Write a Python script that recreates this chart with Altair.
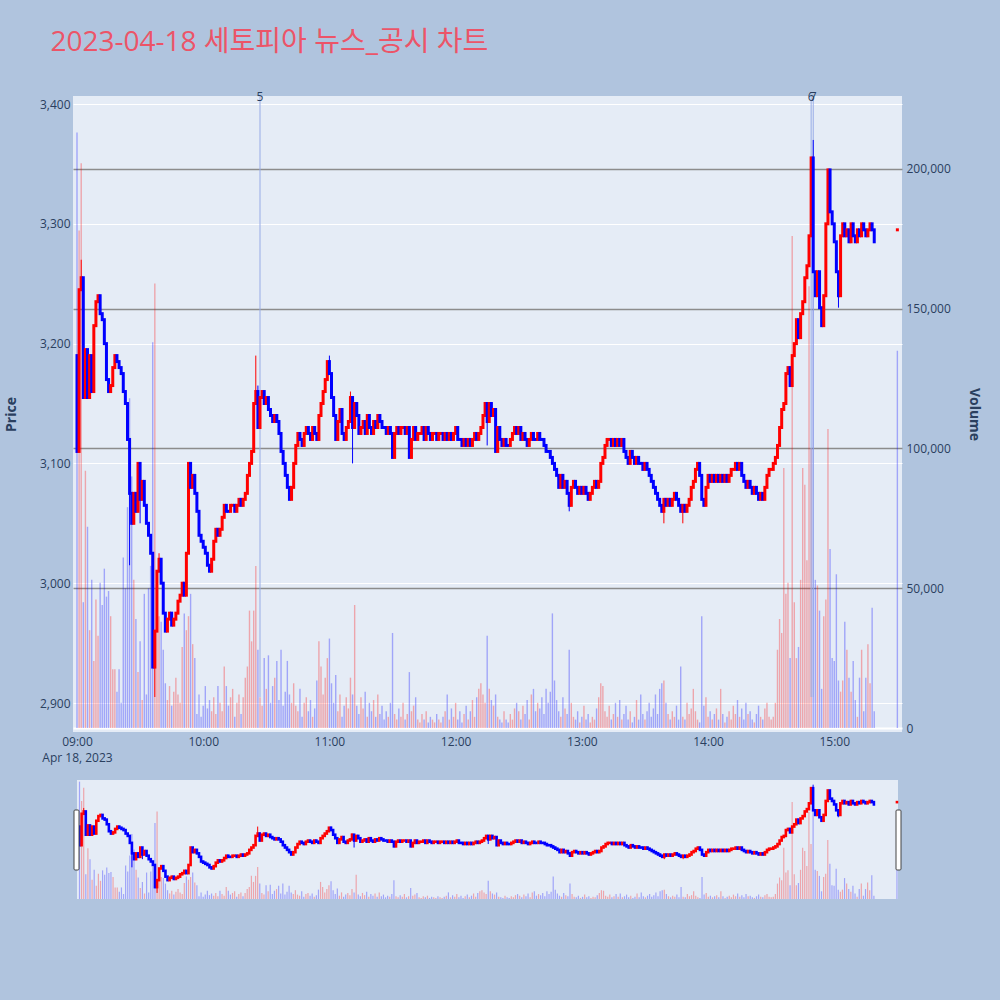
import altair as alt
import pandas as pd

# ---- session data (1-minute candles, 09:00 .. 15:19, plus 15:30 closing auction) ----
TITLE = "2023-04-18 세토피아 뉴스_공시 차트"
SESSION_DATE = "Apr 18, 2023"

FIRST_OPEN = 3190

CLOSES = [
    3110, 3245, 3255, 3155, 3195, 3155, 3190, 3160, 3215, 3235,
    3240, 3225, 3220, 3200, 3170, 3160, 3165, 3180, 3190, 3185,
    3180, 3175, 3160, 3150, 3120, 3075, 3050, 3075, 3060, 3100,
    3070, 3085, 3065, 3050, 3040, 3025, 2930, 2960, 3010, 3020,
    3000, 2975, 2960, 2970, 2975, 2965, 2970, 2975, 2985, 2990,
    3000, 2990, 3025, 3100, 3080, 3090, 3075, 3060, 3040, 3035,
    3030, 3025, 3015, 3010, 3020, 3035, 3045, 3040, 3045, 3055,
    3065, 3060, 3060, 3065, 3065, 3060, 3065, 3070, 3065, 3070,
    3075, 3090, 3100, 3110, 3150, 3160, 3130, 3155, 3160, 3150,
    3155, 3145, 3140, 3135, 3140, 3135, 3125, 3110, 3100, 3090,
    3080, 3070, 3080, 3100, 3115, 3125, 3120, 3115, 3125, 3130,
    3125, 3120, 3130, 3125, 3120, 3140, 3150, 3160, 3170, 3185,
    3175, 3155, 3140, 3120, 3135, 3145, 3125, 3120, 3130, 3135,
    3155, 3130, 3150, 3140, 3125, 3130, 3135, 3125, 3140, 3130,
    3125, 3135, 3130, 3140, 3135, 3130, 3130, 3125, 3130, 3125,
    3105, 3125, 3130, 3125, 3130, 3130, 3125, 3130, 3105, 3120,
    3130, 3120, 3125, 3125, 3130, 3120, 3130, 3125, 3120, 3125,
    3125, 3120, 3125, 3125, 3120, 3125, 3120, 3125, 3120, 3125,
    3130, 3120, 3120, 3115, 3120, 3115, 3120, 3115, 3120, 3125,
    3120, 3125, 3130, 3140, 3150, 3135, 3150, 3140, 3145, 3110,
    3130, 3120, 3115, 3120, 3115, 3115, 3120, 3125, 3130, 3125,
    3130, 3120, 3125, 3120, 3115, 3120, 3125, 3120, 3120, 3125,
    3120, 3120, 3115, 3110, 3110, 3105, 3100, 3095, 3090, 3080,
    3090, 3080, 3085, 3075, 3065, 3080, 3085, 3080, 3075, 3080,
    3075, 3080, 3075, 3070, 3075, 3080, 3085, 3080, 3085, 3100,
    3105, 3115, 3120, 3120, 3115, 3120, 3115, 3120, 3115, 3120,
    3110, 3105, 3100, 3110, 3105, 3100, 3105, 3100, 3100, 3095,
    3100, 3095, 3090, 3085, 3080, 3075, 3070, 3065, 3060, 3070,
    3065, 3070, 3065, 3070, 3075, 3070, 3065, 3060, 3065, 3060,
    3065, 3070, 3080, 3085, 3095, 3100, 3090, 3070, 3065, 3080,
    3090, 3085, 3090, 3085, 3090, 3085, 3090, 3085, 3090, 3085,
    3090, 3095, 3095, 3100, 3095, 3100, 3090, 3085, 3080, 3085,
    3080, 3075, 3080, 3075, 3070, 3075, 3070, 3080, 3090, 3095,
    3095, 3100, 3105, 3115, 3130, 3145, 3150, 3175, 3180, 3165,
    3190, 3200, 3220, 3205, 3225, 3235, 3255, 3265, 3290, 3355,
    3260, 3240, 3260, 3230, 3215, 3240, 3300, 3345, 3310, 3300,
    3285, 3260, 3240, 3290, 3300, 3290, 3295, 3285, 3300, 3290,
    3285, 3295, 3290, 3300, 3295, 3290, 3295, 3300, 3295, 3285,
]

# traded volume per minute, thousands of shares
VOLUMES_K = [
    213, 178, 202, 45, 92, 72, 35, 53, 24, 46,
    33, 52, 44, 57, 47, 49, 40, 21, 21, 13,
    21, 9, 61, 50, 79, 118, 90, 53, 39, 20,
    31, 10, 48, 12, 50, 58, 138, 159, 42, 40,
    38, 28, 16, 10, 15, 8, 13, 18, 12, 9,
    29, 41, 35, 40, 48, 30, 25, 5, 12, 4,
    8, 15, 7, 10, 6, 11, 5, 15, 9, 6,
    22, 15, 8, 11, 14, 4, 9, 12, 5, 11,
    18, 22, 42, 31, 42, 58, 28, 11, 8, 25,
    14, 26, 9, 15, 18, 24, 10, 28, 8, 13,
    24, 12, 9, 16, 8, 6, 14, 4, 9, 11,
    6, 10, 4, 7, 17, 31, 22, 12, 18, 25,
    32, 16, 9, 19, 6, 12, 4, 8, 11, 7,
    18, 12, 44, 8, 5, 11, 7, 13, 4, 9,
    6, 10, 4, 12, 5, 8, 3, 6, 4, 9,
    34, 5, 3, 7, 4, 9, 3, 5, 20, 6,
    8, 11, 3, 2, 5, 3, 6, 2, 4, 3,
    2, 5, 3, 2, 4, 6, 12, 3, 7, 4,
    9, 3, 6, 2, 5, 8, 3, 6, 10, 4,
    11, 14, 16, 12, 9, 33, 14, 10, 8, 12,
    4, 3, 2, 6, 3, 2, 5, 3, 7, 9,
    6, 3, 8, 5, 10, 3, 12, 14, 6, 9,
    7, 11, 5, 14, 9, 13, 41, 17, 10, 6,
    4, 11, 7, 5, 28, 9, 4, 3, 6, 2,
    4, 8, 3, 5, 2, 4, 3, 7, 11, 16,
    15, 6, 4, 8, 3, 5, 9, 4, 10, 3,
    5, 8, 3, 6, 2, 4, 10, 3, 12, 5,
    3, 6, 9, 4, 7, 12, 5, 14, 16, 17,
    9, 5, 3, 6, 4, 8, 3, 22, 4, 3,
    9, 5, 7, 14, 6, 3, 2, 40, 8, 11,
    4, 6, 3, 5, 7, 3, 14, 5, 2, 4,
    6, 3, 8, 5, 10, 4, 7, 3, 9, 5,
    6, 3, 2, 5, 8, 4, 3, 7, 9, 4,
    3, 4, 9, 28, 39, 34, 93, 48, 52, 25,
    176, 45, 25, 29, 53, 93, 87, 60, 158, 100,
    190, 53, 51, 42, 14, 40, 46, 107, 64, 25,
    24, 55, 17, 13, 17, 38, 28, 18, 13, 24,
    10, 4, 18, 28, 6, 18, 30, 16, 43, 6,
]

# wick extremes beyond the candle bodies (minute -> price)
WICK_HIGHS = {2: 3270, 39: 3025, 85: 3190, 86: 3165, 120: 3190, 130: 3160, 350: 3370}
WICK_LOWS = {1: 3135, 25: 3015, 30: 3050, 37: 2905, 131: 3100, 195: 3115,
             234: 3060, 279: 3050, 288: 3050, 362: 3230}

# 15:30 closing auction
AUCTION_MINUTE = 390
AUCTION_OPEN = 3295
AUCTION_CLOSE = 3295
AUCTION_VOLUME_K = 135

# news / disclosure markers
NEWS_LABELS = ["5", "6", "7"]
NEWS_MINUTES = [87, 349, 350]

PRICE_TICKS = [2900, 3000, 3100, 3200, 3300, 3400]
VOLUME_TICKS = [0, 50000, 100000, 150000, 200000]
TIME_TICKS = [0, 60, 120, 180, 240, 300, 360]

assert len(CLOSES) == len(VOLUMES_K)

# ---- build the candle table ----
rows = []
prev_dir = "up"
opens = [FIRST_OPEN] + CLOSES[:-1]
for i, (o, c, v) in enumerate(zip(opens, CLOSES, VOLUMES_K)):
    if c > o:
        d = "up"
    elif c < o:
        d = "down"
    else:
        d = prev_dir
    prev_dir = d
    rows.append(dict(minute=i, open=o, close=c,
                     high=max(o, c, WICK_HIGHS.get(i, o)),
                     low=min(o, c, WICK_LOWS.get(i, o)),
                     volume=v * 1000, vol_base=0, dir=d, vol_dir=d))
rows.append(dict(minute=AUCTION_MINUTE, open=AUCTION_OPEN, close=AUCTION_CLOSE,
                 high=AUCTION_CLOSE, low=AUCTION_OPEN,
                 volume=AUCTION_VOLUME_K * 1000, vol_base=0, dir="up", vol_dir="down"))
candles = pd.DataFrame(rows)

day_low = int(candles["low"].min())
news = pd.DataFrame({"label": NEWS_LABELS, "minute": NEWS_MINUTES,
                     "base": [day_low] * len(NEWS_LABELS)})

# ---- styling ----
BG = "#B0C4DE"
PLOT_BG = "#E5ECF6"
TEXT = "#2a3f5f"
FONT = "Open Sans, Noto Sans CJK KR"
UP, DOWN = "#FF0000", "#0000FF"

color_scale = alt.Scale(domain=["up", "down"], range=[UP, DOWN])

X_DOMAIN = [-1.9, 392.2]
PRICE_DOMAIN = [2875.8, 3406.7]
VOLUME_DOMAIN = [-1430, 226100]

time_label = (
    f"datum.value == 0 ? ['09:00', '{SESSION_DATE}'] : "
    "timeFormat(datetime(2023, 3, 18, 9, datum.value), '%H:%M')"
)

x_main = alt.X(
    "minute:Q",
    scale=alt.Scale(domain=X_DOMAIN, nice=False, zero=False, padding=0),
    axis=alt.Axis(values=TIME_TICKS, labelExpr=time_label, grid=False, ticks=False,
                  domain=False, title="", labelPadding=4, labelLineHeight=16,
                  labelFontSize=12, labelColor=TEXT, labelFont=FONT),
)

price_axis = alt.Axis(values=PRICE_TICKS, format=",d", title="Price", orient="left",
                      grid=True, gridColor="#FFFFFF", gridWidth=1, ticks=False,
                      domain=False, labelPadding=3, labelFontSize=12, labelColor=TEXT,
                      labelFont=FONT, titleFont=FONT, titleFontSize=14,
                      titleFontWeight="bold", titleColor=TEXT, titlePadding=21)

volume_axis = alt.Axis(values=VOLUME_TICKS, format=",d", title="Volume", orient="right",
                       grid=True,
                       gridColor={"condition": {"test": "datum.value === 0", "value": "#FFFFFF"},
                                  "value": "#8c8c8c"},
                       gridWidth={"condition": {"test": "datum.value === 0", "value": 2},
                                  "value": 1.3},
                       ticks=False, domain=False, labelPadding=4, labelFontSize=12,
                       labelColor=TEXT, labelFont=FONT, titleFont=FONT, titleFontSize=14,
                       titleFontWeight="bold", titleColor=TEXT, titlePadding=16)

price_scale = alt.Scale(domain=PRICE_DOMAIN, nice=False, zero=False)
volume_scale = alt.Scale(domain=VOLUME_DOMAIN, nice=False, zero=False)

base = alt.Chart(candles)

volume_bars = base.mark_bar(size=1.4, opacity=0.3).encode(
    x=x_main,
    y=alt.Y("volume:Q", scale=volume_scale, axis=volume_axis),
    y2="vol_base:Q",
    color=alt.Color("vol_dir:N", scale=color_scale, legend=None),
)

news_lines = alt.Chart(news).mark_rule(strokeWidth=1, color="#97abe6").encode(
    x=x_main,
    y=alt.Y("base:Q", scale=price_scale, axis=price_axis),
    y2=alt.value(0),
)

wicks = base.mark_rule(strokeWidth=1).encode(
    x=x_main,
    y=alt.Y("low:Q", scale=price_scale, axis=price_axis),
    y2="high:Q",
    color=alt.Color("dir:N", scale=color_scale, legend=None),
)

bodies = base.mark_rule(strokeWidth=3, strokeCap="square").encode(
    x=x_main,
    y=alt.Y("open:Q", scale=price_scale, axis=price_axis),
    y2="close:Q",
    color=alt.Color("dir:N", scale=color_scale, legend=None),
)

news_text = alt.Chart(news).mark_text(fontSize=12, color=TEXT, font=FONT,
                                      baseline="middle", clip=False).encode(
    x=x_main,
    y=alt.value(1),
    text="label:N",
)

main = alt.layer(
    volume_bars,
    alt.layer(news_lines, wicks, bodies, news_text),
).resolve_scale(y="independent").properties(
    width=829, height=636, view=alt.ViewBackground(fill=PLOT_BG, strokeWidth=0))

# ---- range slider overview (drawn inset 4px inside the main plot's width) ----
S_X_DOMAIN = [-1.2, 390.5]
S_PRICE_DOMAIN = [2879, 3390]
S_VOLUME_DOMAIN = [0, 216000]
S_WIDTH, S_HEIGHT, S_INSET = 829, 119, 4

x_slider = alt.X("minute:Q",
                 scale=alt.Scale(domain=S_X_DOMAIN, nice=False, zero=False, padding=0,
                                 range=[S_INSET, S_WIDTH - S_INSET]),
                 axis=None)
hidden_price_axis = alt.Axis(values=PRICE_TICKS, format=",d", title="Price", orient="left",
                             grid=False, ticks=False, domain=False, labelPadding=3,
                             labelFontSize=12, labelOpacity=0, labelFont=FONT,
                             titleFont=FONT, titleFontSize=14, titleFontWeight="bold",
                             titleOpacity=0, titlePadding=21)
s_price = alt.Scale(domain=S_PRICE_DOMAIN, nice=False, zero=False)

frame_src = alt.Chart(pd.DataFrame({"h": [0]}))
s_background = frame_src.mark_rect(fill=PLOT_BG).encode(
    x=alt.value(S_INSET), x2=alt.value(S_WIDTH - S_INSET),
    y=alt.value(0), y2=alt.value(S_HEIGHT))

s_volume = base.mark_bar(size=1.2, opacity=0.3).encode(
    x=x_slider,
    y=alt.Y("volume:Q", scale=alt.Scale(domain=S_VOLUME_DOMAIN, nice=False, zero=False),
            axis=None),
    y2="vol_base:Q",
    color=alt.Color("vol_dir:N", scale=color_scale, legend=None),
)
s_wicks = base.mark_rule(strokeWidth=1).encode(
    x=x_slider,
    y=alt.Y("low:Q", scale=s_price, axis=hidden_price_axis),
    y2="high:Q",
    color=alt.Color("dir:N", scale=color_scale, legend=None),
)
s_bodies = base.mark_rule(strokeWidth=2.6, strokeCap="square").encode(
    x=x_slider,
    y=alt.Y("open:Q", scale=s_price, axis=hidden_price_axis),
    y2="close:Q",
    color=alt.Color("dir:N", scale=color_scale, legend=None),
)

left_handle = frame_src.mark_rect(fill="#FFFFFF", stroke="#444444", strokeWidth=1,
                                  cornerRadius=1, clip=False).encode(
    x=alt.value(1), x2=alt.value(6), y=alt.value(30), y2=alt.value(90))
right_handle = frame_src.mark_rect(fill="#FFFFFF", stroke="#444444", strokeWidth=1,
                                   cornerRadius=1, clip=False).encode(
    x=alt.value(S_WIDTH - 6), x2=alt.value(S_WIDTH - 1), y=alt.value(30), y2=alt.value(90))

slider = alt.layer(
    s_background,
    s_volume,
    alt.layer(s_wicks, s_bodies, left_handle, right_handle),
).resolve_scale(y="independent").properties(
    width=S_WIDTH, height=S_HEIGHT, view=alt.ViewBackground(fill="transparent", strokeWidth=0))

chart = alt.vconcat(main, slider, spacing=17).properties(
    title=alt.TitleParams(TITLE, anchor="start", font=FONT, fontSize=28,
                          fontWeight="normal", color="#EC5468", dx=46, offset=34),
    background=BG,
    padding={"left": 4, "top": 29, "right": 19, "bottom": 99},
).configure_view(strokeWidth=0)

chart.save("out.html", embed_options={"renderer": "svg", "actions": False})
